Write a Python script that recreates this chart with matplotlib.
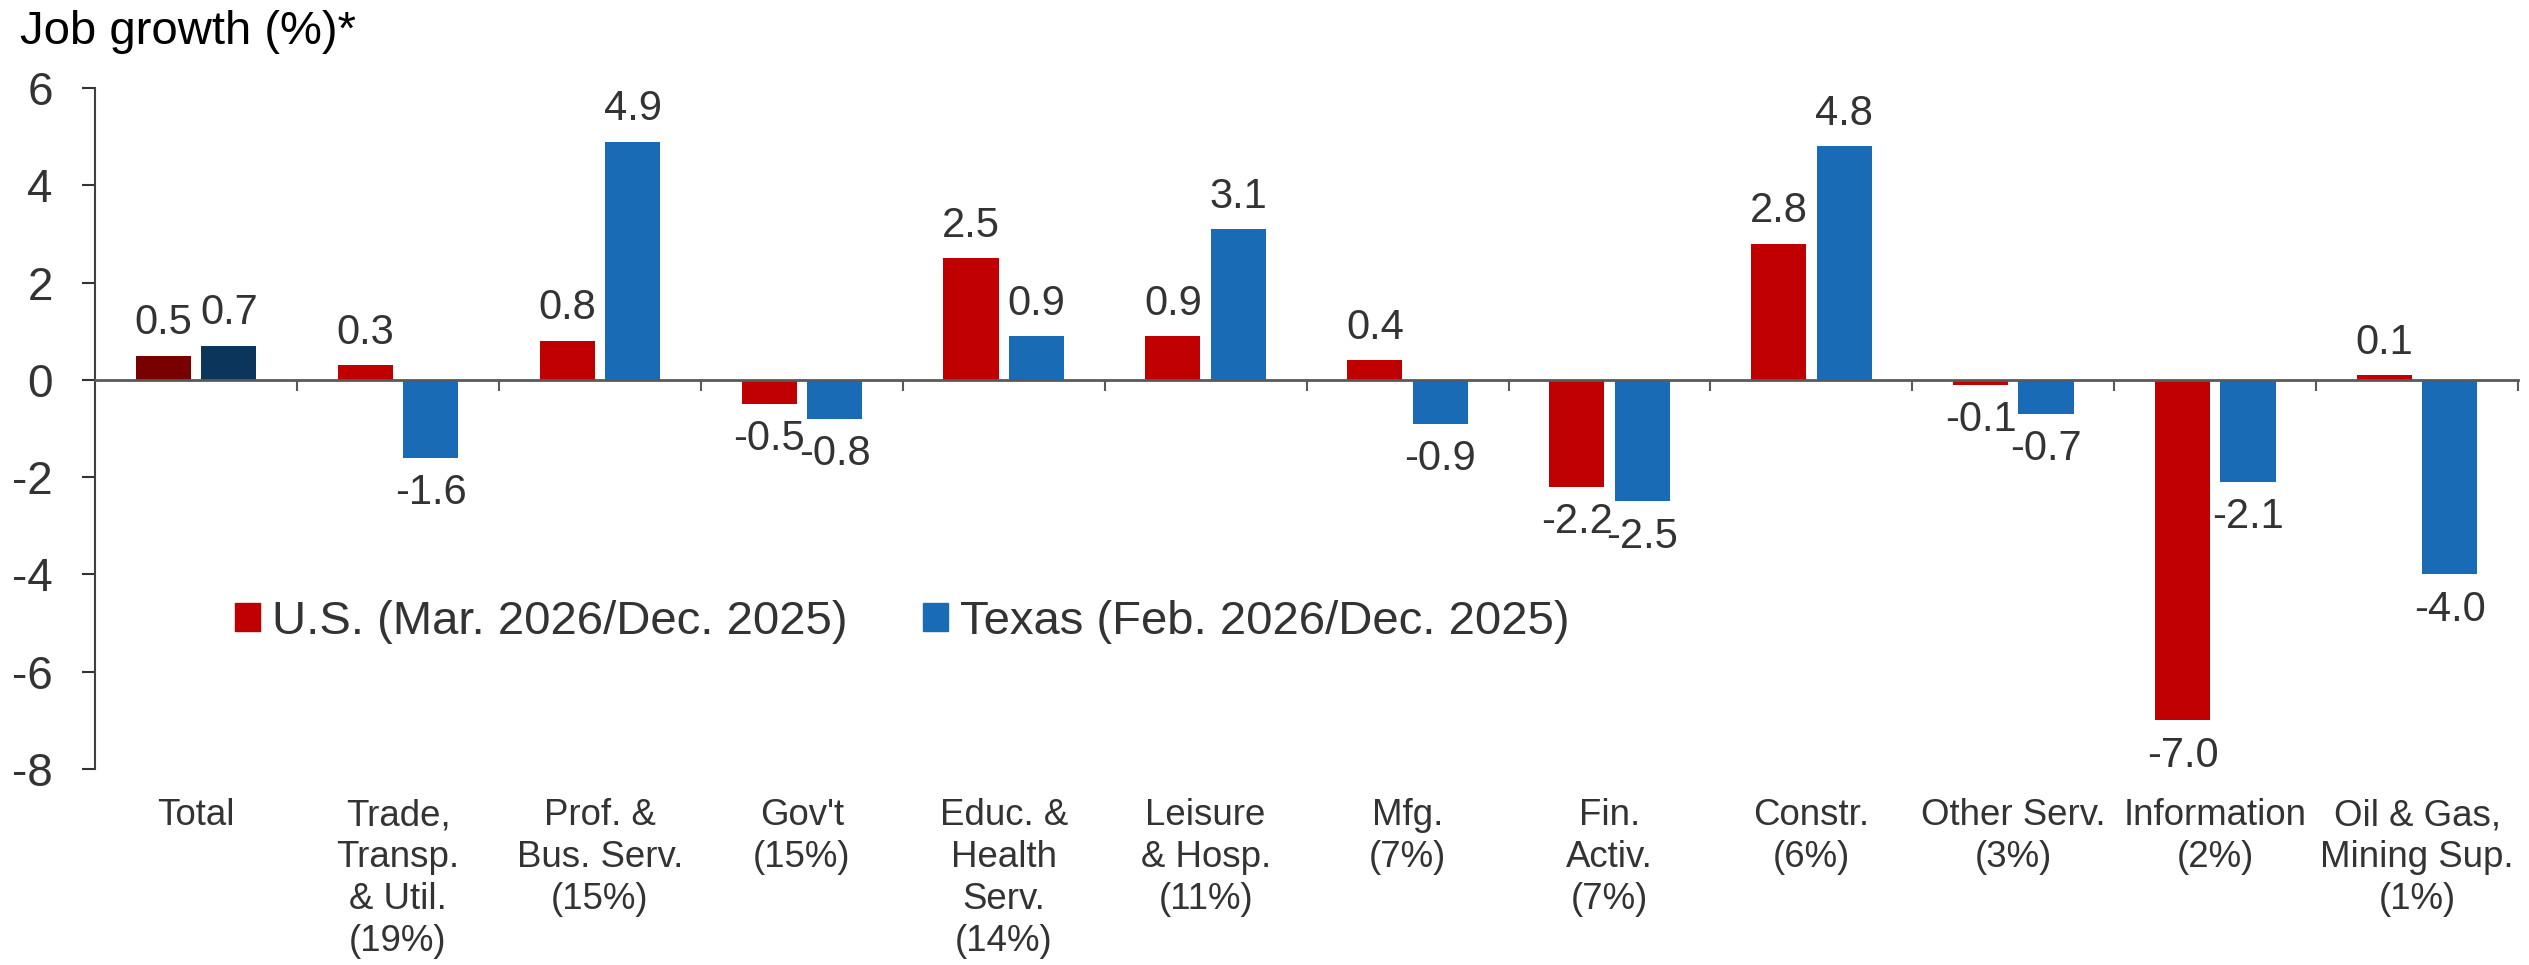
import numpy as np
import matplotlib
matplotlib.use("Agg")
import matplotlib.pyplot as plt
from matplotlib.patches import Patch

plt.rcParams['font.family'] = ['Liberation Sans', 'DejaVu Sans']
plt.rcParams['axes.unicode_minus'] = False

# data
kategori = ["Total", "Trade,\nTransp.\n& Util.\n(19%)", "Prof. &\nBus. Serv.\n(15%)", "Gov't\n(15%)",
            "Educ. &\nHealth\nServ.\n(14%)", "Leisure\n& Hosp.\n(11%)", "Mfg.\n(7%)", "Fin.\nActiv.\n(7%)",
            "Constr.\n(6%)", "Other Serv.\n(3%)", "Information\n(2%)", "Oil & Gas,\nMining Sup.\n(1%)"]
us = [0.5, 0.3, 0.8, -0.5, 2.5, 0.9, 0.4, -2.2, 2.8, -0.1, -7.0, 0.1]
texas = [0.7, -1.6, 4.9, -0.8, 0.9, 3.1, -0.9, -2.5, 4.8, -0.7, -2.1, -4.0]
label_us = "U.S. (Mar. 2026/Dec. 2025)"
label_tx = "Texas (Feb. 2026/Dec. 2025)"

merah = '#C00000'
biru = '#1A6BB5'
teks = '#333333'

fig = plt.figure(figsize=(25.29, 9.65), dpi=100)
ax = fig.add_axes([0.0376, 0.2031, 0.9581, 0.7057])

x = np.arange(len(kategori))
w = 0.273
off = 0.162
warna_us = ['#780000'] + [merah] * (len(us) - 1)
warna_tx = ['#0B355B'] + [biru] * (len(texas) - 1)
b1 = ax.bar(x - off, us, w, color=warna_us)
b2 = ax.bar(x + off, texas, w, color=warna_tx)

# label nilai
for bars, vals in [(b1, us), (b2, texas)]:
    for b, v in zip(bars, vals):
        cx = b.get_x() + b.get_width() / 2
        if v >= 0:
            ax.annotate(f'{v:.1f}', (cx, v), xytext=(0, 9), textcoords='offset points',
                        ha='center', va='bottom', fontsize=30, color=teks)
        else:
            ax.annotate(f'{v:.1f}', (cx, v), xytext=(0, -11), textcoords='offset points',
                        ha='center', va='top', fontsize=30, color=teks)

# label kategori di bawah
for xi, k in zip(x, kategori):
    ax.text(xi, -0.043, k, transform=ax.get_xaxis_transform(), ha='center', va='top',
            fontsize=26.4, color=teks, linespacing=1.26)

ax.set_xlim(-0.5, len(kategori) - 0.5)
ax.set_ylim(-8, 6)
ax.set_yticks(np.arange(-8, 7, 2))
ax.tick_params(axis='y', labelsize=33, colors=teks, length=9.5, width=1.5, pad=21)
ax.set_xticks(np.arange(0.5, len(kategori), 1.0))
ax.set_xticklabels([])
ax.tick_params(axis='x', length=8, width=1.5, colors='#595959')

ax.spines['top'].set_visible(False)
ax.spines['right'].set_visible(False)
ax.spines['bottom'].set_position(('data', 0))
ax.spines['bottom'].set_color('#595959')
ax.spines['bottom'].set_linewidth(2)
ax.spines['left'].set_color('#404040')
ax.spines['left'].set_linewidth(1.5)

handles = [Patch(color=merah, label=label_us), Patch(color=biru, label=label_tx)]
ax.legend(handles=handles, ncol=2, frameon=False, loc='center left',
          bbox_to_anchor=(0.0578, 0.216), borderaxespad=0, borderpad=0,
          fontsize=34, handlelength=0.53, handleheight=0.53, handletextpad=0.25,
          columnspacing=1.6, labelcolor=teks)

fig.text(0.008, 0.99, "Job growth (%)*", ha='left', va='top', fontsize=34, color='black')

fig.savefig('out.png', dpi=100)
